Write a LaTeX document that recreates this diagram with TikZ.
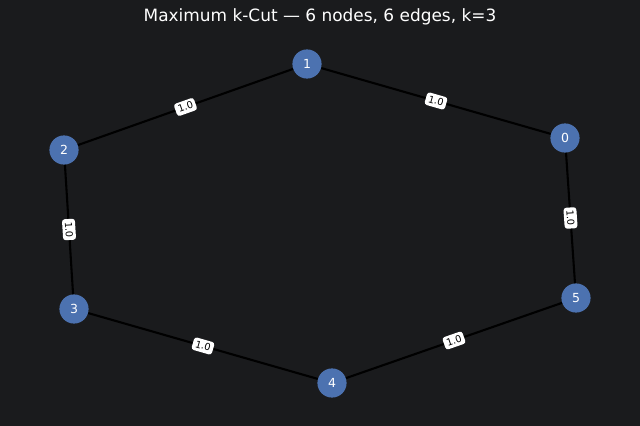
\documentclass[tikz,border=0pt]{standalone}
\usepackage{fontspec}
\setmainfont{DejaVu Sans}
\definecolor{bgdark}{HTML}{1A1B1D}
\definecolor{nodeblue}{HTML}{4C72B0}
\tikzset{
  vertex/.style={circle, fill=nodeblue, minimum size=21pt, inner sep=0pt, text=white, font=\fontsize{9}{9}\selectfont},
  wire/.style={line width=1.5pt, black},
  weight/.style={fill=white, rounded corners=2pt, inner sep=2pt, sloped, text=black, font=\fontsize{7}{7}\selectfont}
}

\begin{document}
\begin{tikzpicture}[x=0.72pt, y=-0.72pt]
			%%%%% START %%%%%
			
			\fill[bgdark] (0, 0) rectangle (640, 426);
			\useasboundingbox (0, 0) rectangle (640, 426);
			
			\node[text=white, font=\fontsize{12.2}{12.2}\selectfont] (title) at (320, 17) {Maximum k-Cut — 6 nodes, 6 edges, k=3};
			
			\node[vertex] (v0) at (565, 138) {0};
			\node[vertex] (v1) at (307, 64) {1};
			\node[vertex] (v2) at (64, 150) {2};
			\node[vertex] (v3) at (74, 309) {3};
			\node[vertex] (v4) at (332, 383) {4};
			\node[vertex] (v5) at (576, 298) {5};
			
			\draw[wire] (v0) -- node[weight] {1.0} (v1);
			\draw[wire] (v1) -- node[weight] {1.0} (v2);
			\draw[wire] (v2) -- node[weight] {1.0} (v3);
			\draw[wire] (v3) -- node[weight] {1.0} (v4);
			\draw[wire] (v4) -- node[weight] {1.0} (v5);
			\draw[wire] (v5) -- node[weight] {1.0} (v0);
			
			%%%%% END %%%%%
\end{tikzpicture}
\end{document}
